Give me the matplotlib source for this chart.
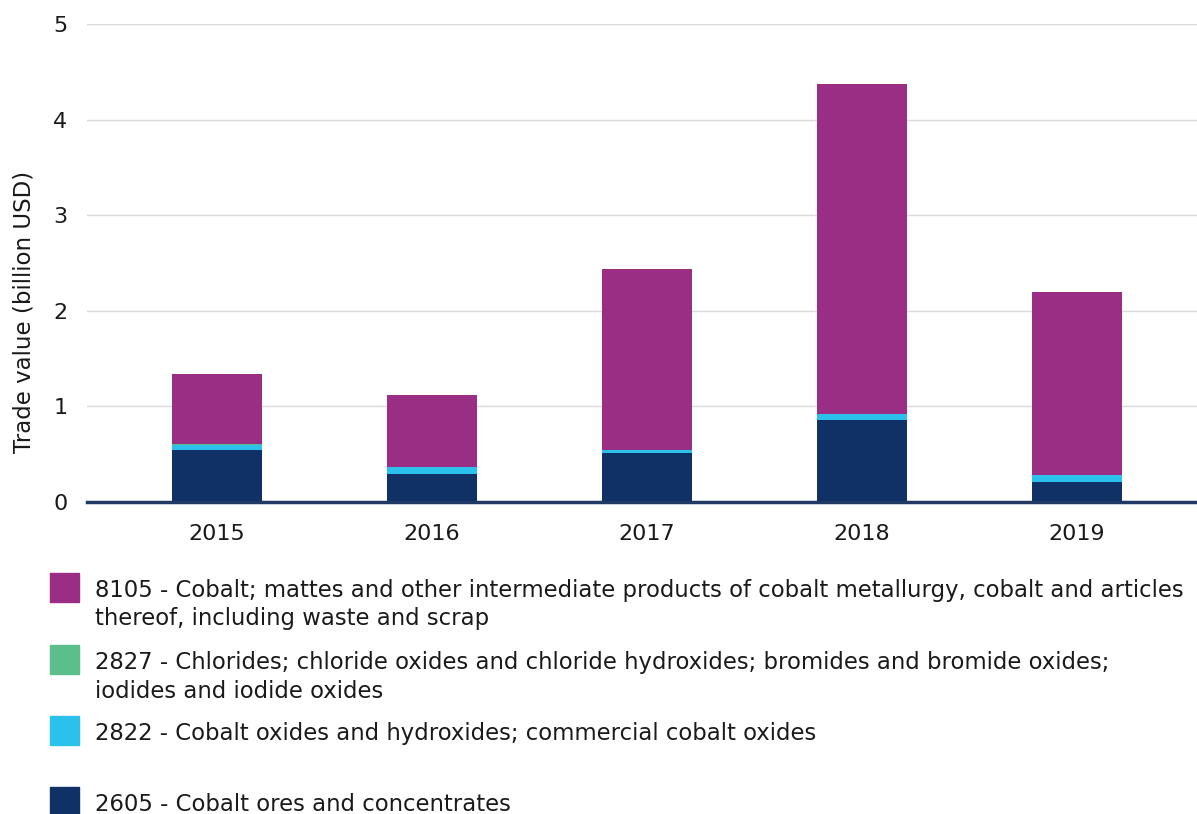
import matplotlib
matplotlib.use("Agg")
import matplotlib.pyplot as plt
from matplotlib.patches import Rectangle
import numpy as np

plt.rcParams['font.family'] = ['DejaVu Sans']

years = ["2015", "2016", "2017", "2018", "2019"]
ores_2605 = [0.545, 0.293, 0.512, 0.858, 0.210]
oxides_2822 = [0.055, 0.073, 0.032, 0.062, 0.072]
chlorides_2827 = [0.003, 0.002, 0.002, 0.002, 0.002]
cobalt_8105 = [0.737, 0.752, 1.894, 3.448, 1.916]

series_labels = [
    "8105 - Cobalt; mattes and other intermediate products of cobalt metallurgy, cobalt and articles\nthereof, including waste and scrap",
    "2827 - Chlorides; chloride oxides and chloride hydroxides; bromides and bromide oxides;\niodides and iodide oxides",
    "2822 - Cobalt oxides and hydroxides; commercial cobalt oxides",
    "2605 - Cobalt ores and concentrates",
]
colors = {"8105": "#9a2d84", "2827": "#5bbf8c", "2822": "#2bc1ea", "2605": "#0f3166"}
y_ticks = [0, 1, 2, 3, 4, 5]

W, H = 1197, 814
fig = plt.figure(figsize=(W / 100, H / 100), dpi=100)
ax = fig.add_axes([87 / W, 1 - 502 / H, 1 - 87 / W, (502 - 24) / H])

x = np.arange(len(years))
bw = 0.42
b = np.zeros(len(years))
for vals, key in [(ores_2605, "2605"), (oxides_2822, "2822"),
                  (chlorides_2827, "2827"), (cobalt_8105, "8105")]:
    ax.bar(x, vals, bw, bottom=b, color=colors[key], zorder=2, linewidth=0)
    b = b + np.array(vals)

ax.set_xlim(-0.605, 4.56)
ax.set_ylim(0, 5)
ax.set_yticks(y_ticks)
ax.set_yticklabels([str(t) for t in y_ticks])
ax.set_xticks(x)
ax.set_xticklabels(years)
ax.grid(axis='y', color='#d9d9d9', linewidth=1, zorder=0)
for s in ['top', 'right', 'left']:
    ax.spines[s].set_visible(False)
ax.spines['bottom'].set_color('#1f3864')
ax.spines['bottom'].set_linewidth(2.5)
ax.spines['bottom'].set_zorder(3)
ax.tick_params(axis='both', length=0, labelsize=16, colors='#1a1a1a')
ax.tick_params(axis='y', pad=14)
ax.tick_params(axis='x', pad=16)
ax.set_ylabel("Trade value (billion USD)", fontsize=16.5, color='#1a1a1a')
ax.yaxis.set_label_coords((36 - 87) / (W - 87), (502 - 312) / 478)

# legend
legend_keys = ["8105", "2827", "2822", "2605"]
base_ys = [597, 669, 740, 811]
for key, lab, yy in zip(legend_keys, series_labels, base_ys):
    fig.patches.append(Rectangle((50 / W, 1 - (yy + 5) / H), 29 / W, 29 / H,
                                 transform=fig.transFigure, color=colors[key]))
    for i, line in enumerate(lab.split("\n")):
        fig.text(95 / W, 1 - (yy + i * 28.5) / H, line, fontsize=16.4,
                 va='baseline', ha='left', color='#1a1a1a')

fig.savefig("out.png", dpi=100)
